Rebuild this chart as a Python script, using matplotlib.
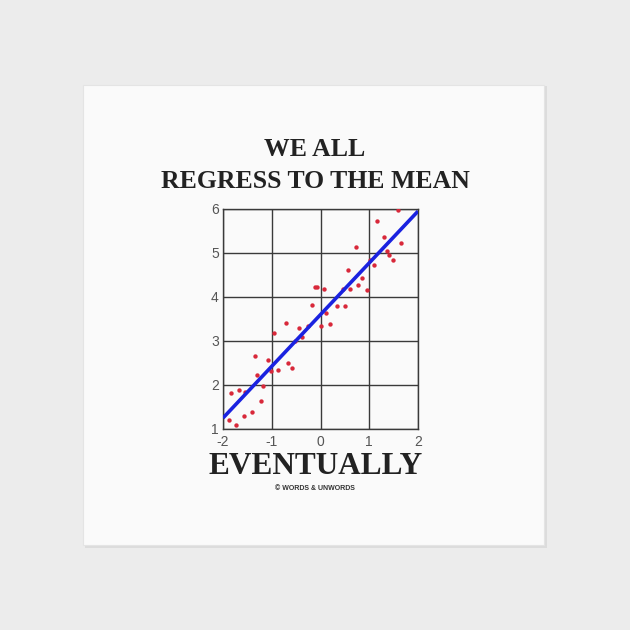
import matplotlib.pyplot as plt
from matplotlib.patches import Rectangle

plt.rcParams['axes.unicode_minus'] = False
plt.rcParams['font.family'] = ['Liberation Sans', 'DejaVu Sans']

# scatter points
pts_x = [1.59, 1.16, 1.30, 1.65, 0.72, 1.37, 1.40, 1.49, 1.01, 1.09,
         0.57, 0.85, 0.77, 0.61, 0.46, 0.95, -0.12, -0.08, 0.08, -0.18,
         0.34, 0.50, 0.11, 0.19, 0.00, -0.25, -0.70, -0.44, -0.96, -0.37,
         -0.53, -1.35, -1.07, -0.66, -0.58, -0.87, -1.01, -1.30, -1.18, -1.84,
         -1.68, -1.55, -1.23, -1.41, -1.56, -1.88, -1.73]
pts_y = [5.98, 5.73, 5.36, 5.23, 5.13, 5.04, 4.96, 4.84, 4.85, 4.73,
         4.62, 4.43, 4.28, 4.19, 4.19, 4.17, 4.22, 4.22, 4.18, 3.82,
         3.79, 3.79, 3.64, 3.39, 3.35, 3.35, 3.41, 3.29, 3.18, 3.08,
         3.00, 2.65, 2.56, 2.50, 2.39, 2.35, 2.31, 2.23, 1.98, 1.82,
         1.88, 1.83, 1.63, 1.39, 1.30, 1.21, 1.08]

# regression line end points
line_x = [-2, 2]
line_y = [1.25, 5.95]

x_ticks = [-2, -1, 0, 1, 2]
y_ticks = [1, 2, 3, 4, 5, 6]

fig = plt.figure(figsize=(6.3, 6.3), dpi=100)
fig.patch.set_facecolor('#ececec')

# napkin with a soft shadow (kept below the axes)
W = 630.0
fig.patches.append(Rectangle((85 / W, 1 - 548 / W), 462 / W, 462 / W,
                             transform=fig.transFigure, facecolor='#dcdcdc',
                             edgecolor='none', zorder=-3))
fig.patches.append(Rectangle((83 / W, 1 - 545 / W), 461 / W, 460 / W,
                             transform=fig.transFigure, facecolor='#fafafa',
                             edgecolor='#e4e4e4', linewidth=0.8, zorder=-2))

ax = fig.add_axes([223 / W, 1 - 429 / W, 195 / W, 220 / W])
ax.set_zorder(2)
ax.set_facecolor('#fafafa')
ax.set_xlim(-2, 2)
ax.set_ylim(1, 6)
ax.set_xticks(x_ticks)
ax.set_yticks(y_ticks)
ax.grid(True, color='#3a3a3a', linewidth=1.0)
ax.set_axisbelow(True)
for s in ax.spines.values():
    s.set_color('#3a3a3a')
    s.set_linewidth(1.0)
ax.tick_params(length=0, labelsize=10, labelcolor='#555555')
ax.tick_params(axis='y', pad=3)
ax.tick_params(axis='x', pad=4)

ax.scatter(pts_x, pts_y, s=10, color='#d8283a', zorder=3, linewidths=0)
ax.plot(line_x, line_y, color='#1a22e0', linewidth=2.6, zorder=4,
        solid_capstyle='butt')

serif = ['Liberation Serif', 'DejaVu Serif']
fig.text(315 / W, 1 - 150 / W, 'WE ALL', ha='center', va='center',
         fontsize=18.5, fontweight='bold', family=serif, color='#222222')
fig.text(315 / W, 1 - 181 / W, 'REGRESS TO THE MEAN', ha='center', va='center',
         fontsize=18.5, fontweight='bold', family=serif, color='#222222')
fig.text(316 / W, 1 - 466 / W, 'EVENTUALLY', ha='center', va='center',
         fontsize=22.5, fontweight='bold', family=serif, color='#222222')
fig.text(315 / W, 1 - 488 / W, '\u00a9 WORDS & UNWORDS', ha='center', va='center',
         fontsize=5, fontweight='bold', color='#333333')

fig.savefig('out.png', dpi=100, facecolor=fig.get_facecolor())
